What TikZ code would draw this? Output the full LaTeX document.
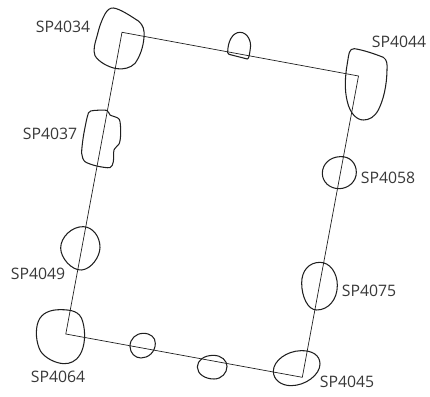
\documentclass[tikz,border=0pt]{standalone}
\usepackage{fontspec}
\setmainfont{Open Sans}
\begin{document}
\begin{tikzpicture}[x=1pt,y=-1pt,
  blob/.style={draw=black!88,line width=1.05pt,line join=round},
  frameline/.style={draw=black!88,line width=0.7pt,line join=miter},
  lab/.style={font=\fontsize{15.8}{18}\selectfont,text=black!78,inner sep=0pt,anchor=center},
  q1/.style={x=0.33333pt,y=-0.33333pt},
  q2/.style={x=0.33333pt,y=-0.33333pt,shift={(215pt,0pt)}},
  q3/.style={x=0.33333pt,y=-0.33333pt,shift={(0pt,-198pt)}},
  q4/.style={x=0.33333pt,y=-0.33333pt,shift={(215pt,-198pt)}}]
\useasboundingbox (0,0) rectangle (430,396);
\draw[frameline] (122,32.3) -- (358.5,76) -- (302.3,377.3) -- (65.8,334) -- cycle;
\begin{scope}[q1]
\draw[blob] (340,24) .. controls (360,26) and (395,50) .. (415,63) .. controls (430,75) and (434,90) .. (432,112) .. controls (430,140) and (420,170) .. (405,190) .. controls (392,204) and (370,209) .. (350,206) .. controls (325,202) and (295,185) .. (285,167) .. controls (278,150) and (285,130) .. (292,105) .. controls (298,80) and (305,60) .. (315,42) .. controls (322,30) and (330,23) .. (340,24) -- cycle;
\draw[blob] plot[smooth cycle,tension=.45] coordinates {(272,333)(320,331)(330,345)(358,358)(362,400)(358,430)(342,450)(340,485)(330,503)(290,498)(255,485)(245,460)(250,410)(262,350)};
\end{scope}
\begin{scope}[q2]
\draw[blob] (38,158) .. controls (38,125) and (52,97) .. (75,97) .. controls (98,97) and (110,125) .. (106,145) .. controls (104,160) and (102,177) .. (97,177) -- (42,163) -- cycle;
\draw[blob] (418,146) .. controls (445,150) and (480,162) .. (505,172) .. controls (516,180) and (517,190) .. (516,210) .. controls (515,260) and (505,300) .. (490,330) .. controls (478,352) and (462,360) .. (445,360) .. controls (425,360) and (405,340) .. (397,305) .. controls (388,270) and (390,230) .. (397,190) .. controls (402,160) and (402,146) .. (418,146) -- cycle;
\draw[blob] (375,470) .. controls (405,468) and (424,490) .. (424,517) .. controls (424,545) and (400,566) .. (372,566) .. controls (343,566) and (322,545) .. (322,520) .. controls (322,492) and (345,471) .. (375,470) -- cycle;
\end{scope}
\begin{scope}[q3]
\draw[blob] (250,86) .. controls (278,87) and (300,115) .. (300,148) .. controls (300,175) and (275,213) .. (245,216) .. controls (215,218) and (182,180) .. (182,150) .. controls (182,118) and (215,85) .. (250,86) -- cycle;
\draw[blob] (180,335) .. controls (215,335) and (240,340) .. (248,370) .. controls (258,405) and (255,445) .. (240,470) .. controls (228,490) and (210,498) .. (190,497) .. controls (165,495) and (135,480) .. (122,460) .. controls (108,435) and (105,395) .. (115,370) .. controls (125,345) and (150,335) .. (180,335) -- cycle;
\draw[blob] (430,406) .. controls (452,406) and (466,418) .. (466,436) .. controls (466,462) and (445,480) .. (423,480) .. controls (405,480) and (390,465) .. (390,445) .. controls (390,422) and (408,406) .. (430,406) -- cycle;
\draw[blob] (640,472) .. controls (665,472) and (681,488) .. (681,505) .. controls (681,525) and (665,543) .. (642,543) .. controls (615,543) and (592,528) .. (592,507) .. controls (592,487) and (612,472) .. (640,472) -- cycle;
\end{scope}
\begin{scope}[q4]
\draw[blob] (315,193) .. controls (345,193) and (367,225) .. (367,262) .. controls (367,305) and (340,336) .. (305,336) .. controls (278,336) and (260,295) .. (260,255) .. controls (260,218) and (282,193) .. (315,193) -- cycle;
\draw[blob] (258,458) .. controls (292,457) and (315,472) .. (315,498) .. controls (315,530) and (272,563) .. (228,563) .. controls (198,563) and (175,545) .. (175,520) .. controls (175,488) and (215,459) .. (258,458) -- cycle;
\end{scope}
\node[lab] (sp4034) at (63,27) {SP4034};
\node[lab] (sp4037) at (50,133.5) {SP4037};
\node[lab] (sp4044) at (399,42) {SP4044};
\node[lab] (sp4058) at (388,178) {SP4058};
\node[lab] (sp4049) at (38,274) {SP4049};
\node[lab] (sp4064) at (58,377) {SP4064};
\node[lab] (sp4075) at (369,290.5) {SP4075};
\node[lab] (sp4045) at (347,381.5) {SP4045};
\end{tikzpicture}
\end{document}
